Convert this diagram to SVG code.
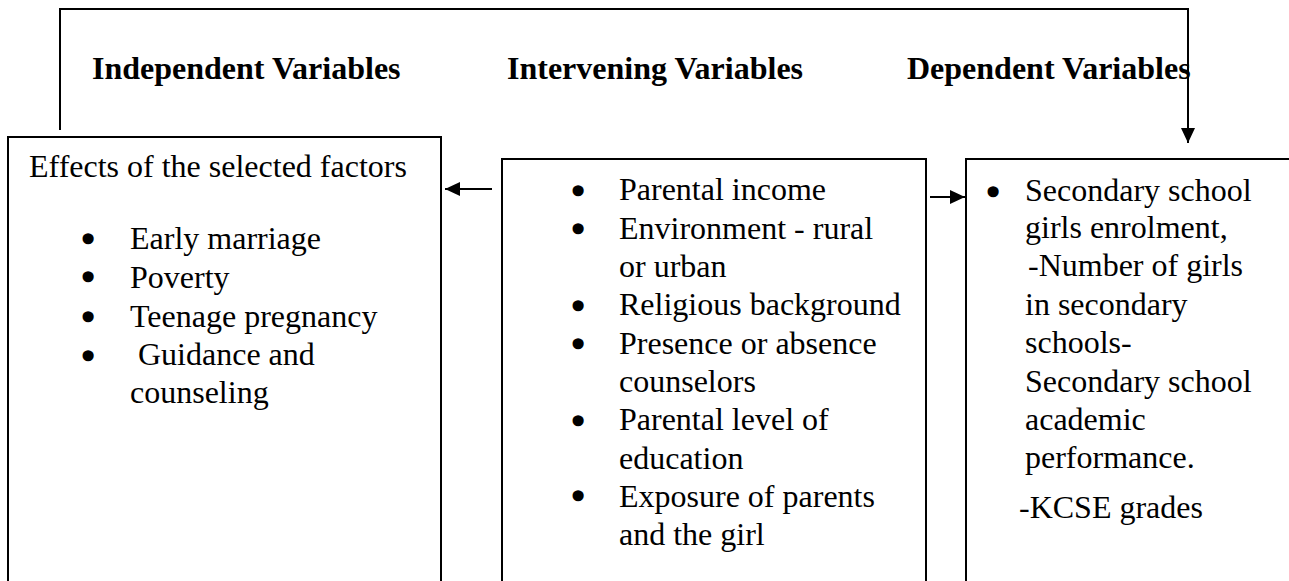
<svg xmlns="http://www.w3.org/2000/svg" width="1289" height="581" viewBox="0 0 1289 581">
<style>
  .t { font-family: "Liberation Serif", "Times New Roman", serif; font-size: 32px; fill: #000; }
  .h { font-family: "Liberation Serif", "Times New Roman", serif; font-size: 32px; font-weight: bold; fill: #000; }
  .b { font-family: "Liberation Serif", "Times New Roman", serif; font-size: 32px; fill: #000; stroke: #000; stroke-width: 3.5; stroke-linejoin: round; text-anchor: middle; }
  .box { fill: #fff; stroke: #000; stroke-width: 2; }
  .conn { fill: none; stroke: #000; stroke-width: 2; }
</style>
<defs>
  <marker id="arrow" markerUnits="userSpaceOnUse" markerWidth="15" markerHeight="14" refX="15" refY="7" orient="auto">
    <path d="M0,0 L15,7 L0,14 z" fill="#000"/>
  </marker>
</defs>
<rect width="1289" height="581" fill="#fff"/>

<g id="headers">
  <text class="h" x="92" y="79">Independent Variables</text>
  <text class="h" x="507" y="79">Intervening Variables</text>
  <text class="h" x="907" y="79">Dependent Variables</text>
</g>

<g id="independent">
  <rect class="box" x="8" y="137" width="433" height="470"/>
  <text class="t" x="29" y="177">Effects of the selected factors</text>
  <text class="b" x="88" y="250">•</text>
  <text class="t" x="130" y="249">Early marriage</text>
  <text class="b" x="88" y="288">•</text>
  <text class="t" x="130" y="288">Poverty</text>
  <text class="b" x="88" y="328">•</text>
  <text class="t" x="130" y="327">Teenage pregnancy</text>
  <text class="b" x="88" y="367">•</text>
  <text class="t" x="138" y="365">Guidance and</text>
  <text class="t" x="130" y="403">counseling</text>
</g>

<g id="intervening">
  <rect class="box" x="502" y="159" width="424" height="450"/>
  <text class="b" x="578" y="202">•</text>
  <text class="t" x="619" y="200">Parental income</text>
  <text class="b" x="578" y="240">•</text>
  <text class="t" x="619" y="238.5">Environment - rural</text>
  <text class="t" x="619" y="277">or urban</text>
  <text class="b" x="578" y="317">•</text>
  <text class="t" x="619" y="315">Religious background</text>
  <text class="b" x="578" y="355">•</text>
  <text class="t" x="619" y="353.5">Presence or absence</text>
  <text class="t" x="619" y="392">counselors</text>
  <text class="b" x="578" y="432">•</text>
  <text class="t" x="619" y="430">Parental level of</text>
  <text class="t" x="619" y="468.5">education</text>
  <text class="b" x="578" y="507">•</text>
  <text class="t" x="619" y="507">Exposure of parents</text>
  <text class="t" x="619" y="545">and the girl</text>
</g>

<g id="dependent">
  <rect class="box" x="966" y="159" width="340" height="450"/>
  <text class="b" x="993" y="203">•</text>
  <text class="t" x="1025" y="201">Secondary school</text>
  <text class="t" x="1025" y="238">girls enrolment,</text>
  <text class="t" x="1028" y="276">-Number of girls</text>
  <text class="t" x="1025" y="315">in secondary</text>
  <text class="t" x="1025" y="353">schools-</text>
  <text class="t" x="1025" y="392">Secondary school</text>
  <text class="t" x="1025" y="430">academic</text>
  <text class="t" x="1025" y="468">performance.</text>
  <text class="t" x="1019" y="518">-KCSE grades</text>
</g>

<g id="connectors">
  <path class="conn" d="M60,130 V9 H1188 V143" marker-end="url(#arrow)"/>
  <path class="conn" d="M492,189 H445" marker-end="url(#arrow)"/>
  <path class="conn" d="M930,197 H965" marker-end="url(#arrow)"/>
</g>
</svg>
